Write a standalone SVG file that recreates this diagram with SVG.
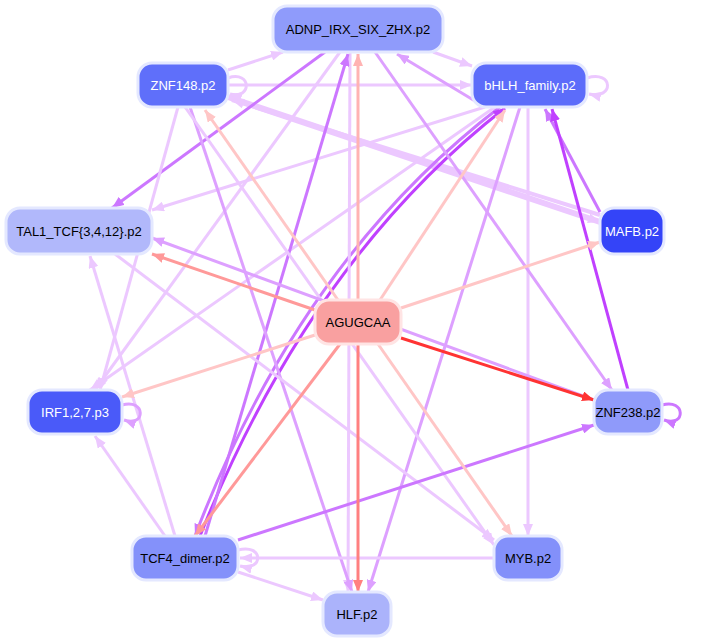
<svg xmlns="http://www.w3.org/2000/svg" width="708" height="644" viewBox="0 0 708 644">
<style>
.n rect{stroke:#e4e8ff;stroke-width:3}
.n text{font-family:"Liberation Sans",Arial,sans-serif;font-size:13px;text-anchor:middle;dominant-baseline:central}
.w text{fill:#fff}
#edges path,#edges line{fill:none;stroke-width:3}
.r1{stroke:#ff3333;marker-end:url(#mr1)}
.r2{stroke:#ff8080;marker-end:url(#mr2)}
.r3{stroke:#ff9999;marker-end:url(#mr3)}
.r4{stroke:#ffb3b3;marker-end:url(#mr4)}
.r5{stroke:#ffc6c6;marker-end:url(#mr5)}
.p1{stroke:#c040ff;marker-end:url(#mp1)}
.p2{stroke:#cc77ff;marker-end:url(#mp2)}
.p3{stroke:#dda0ff;marker-end:url(#mp3)}
.p4{stroke:#ecc8ff;marker-end:url(#mp4)}
</style>
<defs>
<marker id="mr1" markerUnits="userSpaceOnUse" markerWidth="12" markerHeight="10" refX="12" refY="5" orient="auto"><path d="M0,0L12,5L0,10z" fill="#ff3333"/></marker>
<marker id="mr2" markerUnits="userSpaceOnUse" markerWidth="12" markerHeight="10" refX="12" refY="5" orient="auto"><path d="M0,0L12,5L0,10z" fill="#ff8080"/></marker>
<marker id="mr3" markerUnits="userSpaceOnUse" markerWidth="12" markerHeight="10" refX="12" refY="5" orient="auto"><path d="M0,0L12,5L0,10z" fill="#ff9999"/></marker>
<marker id="mr4" markerUnits="userSpaceOnUse" markerWidth="12" markerHeight="10" refX="12" refY="5" orient="auto"><path d="M0,0L12,5L0,10z" fill="#ffb3b3"/></marker>
<marker id="mr5" markerUnits="userSpaceOnUse" markerWidth="12" markerHeight="10" refX="12" refY="5" orient="auto"><path d="M0,0L12,5L0,10z" fill="#ffc6c6"/></marker>
<marker id="mp1" markerUnits="userSpaceOnUse" markerWidth="12" markerHeight="10" refX="12" refY="5" orient="auto"><path d="M0,0L12,5L0,10z" fill="#c040ff"/></marker>
<marker id="mp2" markerUnits="userSpaceOnUse" markerWidth="12" markerHeight="10" refX="12" refY="5" orient="auto"><path d="M0,0L12,5L0,10z" fill="#cc77ff"/></marker>
<marker id="mp3" markerUnits="userSpaceOnUse" markerWidth="12" markerHeight="10" refX="12" refY="5" orient="auto"><path d="M0,0L12,5L0,10z" fill="#dda0ff"/></marker>
<marker id="mp4" markerUnits="userSpaceOnUse" markerWidth="12" markerHeight="10" refX="12" refY="5" orient="auto"><path d="M0,0L12,5L0,10z" fill="#ecc8ff"/></marker>
</defs>
<rect width="708" height="644" fill="#fff"/>
<g id="edges">
<path class="p4" d="M228,97L600,222" style="stroke-width:6"/>
<path class="p4" d="M600,215L232,100" style="stroke-width:4"/>
<path class="p4" d="M228,70L283,52"/>
<path class="p4" d="M228,85L472,85"/>
<path class="p4" d="M228,78C252,70 252,100 230,94"/>
<path class="p4" d="M433,52L472,66"/>
<path class="p3" d="M485,107L397,54"/>
<path class="p4" d="M587,78C614,70 614,100 589,94"/>
<path class="p2" d="M325,52L112,208"/>
<path class="p2" d="M600,212L545,109"/>
<path class="p1" d="M628,390L552,109"/>
<path class="p4" d="M485,107L152,210"/>
<path class="p4" d="M495,107L90,390"/>
<path class="p2" d="M500,107Q300,260 195,536"/>
<path class="p1" d="M200,536Q310,260 505,108"/>
<path class="p3" d="M520,107L368,592"/>
<path class="p4" d="M528,107L528,536"/>
<path class="p4" d="M340,52L95,390"/>
<path class="p4" d="M350,52L348,592"/>
<path class="p2" d="M205,536L348,54"/>
<path class="p3" d="M375,52L612,390"/>
<path class="p3" d="M190,107L352,592"/>
<path class="p4" d="M185,107L494,545"/>
<path class="p4" d="M178,107L100,390"/>
<path class="p3" d="M594,400L152,238"/>
<path class="p4" d="M115,254L494,540"/>
<path class="p4" d="M175,536L90,256"/>
<path class="p4" d="M165,536L95,436"/>
<path class="p2" d="M238,540L594,425"/>
<path class="p4" d="M238,550C264,543 264,572 240,566"/>
<path class="p4" d="M494,558L240,558"/>
<path class="p4" d="M238,572L323,600"/>
<path class="p3" d="M122,405C146,398 146,428 124,420"/>
<path class="p2" d="M662,405C686,398 686,428 664,420"/>
<path class="r4" d="M358,300L358,54"/>
<path class="r5" d="M338,300L205,110"/>
<path class="r5" d="M380,300L505,110"/>
<path class="r3" d="M315,310L152,254"/>
<path class="r5" d="M401,308L600,242"/>
<path class="r1" d="M401,338L594,400"/>
<path class="r5" d="M315,335L122,397"/>
<path class="r3" d="M340,344L195,536"/>
<path class="r2" d="M358,344L358,592"/>
<path class="r5" d="M378,344L512,536"/>
</g>
<g id="ADNP" class="n"><rect x="273" y="6" width="170" height="46" rx="14" fill="#8f9bfb"/><text x="358" y="29">ADNP_IRX_SIX_ZHX.p2</text></g>
<g id="ZNF148" class="n w"><rect x="138" y="63" width="90" height="44" rx="14" fill="#5f6ffa"/><text x="183" y="85">ZNF148.p2</text></g>
<g id="bHLH" class="n w"><rect x="472" y="63" width="115" height="44" rx="14" fill="#5c6cfa"/><text x="530" y="85">bHLH_family.p2</text></g>
<g id="TAL1" class="n"><rect x="6" y="208" width="146" height="46" rx="14" fill="#b1b8fb"/><text x="79" y="231">TAL1_TCF{3,4,12}.p2</text></g>
<g id="MAFB" class="n w"><rect x="600" y="208" width="64" height="46" rx="14" fill="#3444f8"/><text x="632" y="231">MAFB.p2</text></g>
<g id="AGUGCAA" class="n"><rect x="315" y="300" width="86" height="44" rx="14" fill="#f9a0a0" style="stroke:#ffe4e4"/><text x="358" y="322">AGUGCAA</text></g>
<g id="IRF" class="n w"><rect x="28" y="390" width="94" height="44" rx="14" fill="#4a5af9"/><text x="75" y="412">IRF1,2,7.p3</text></g>
<g id="ZNF238" class="n"><rect x="594" y="390" width="68" height="44" rx="14" fill="#8f9afa"/><text x="628" y="412">ZNF238.p2</text></g>
<g id="TCF4" class="n"><rect x="132" y="536" width="106" height="44" rx="14" fill="#8491fa"/><text x="185" y="558">TCF4_dimer.p2</text></g>
<g id="MYB" class="n"><rect x="494" y="536" width="68" height="44" rx="14" fill="#8390fa"/><text x="528" y="558">MYB.p2</text></g>
<g id="HLF" class="n"><rect x="323" y="592" width="68" height="44" rx="14" fill="#abb3fb"/><text x="357" y="614">HLF.p2</text></g>
</svg>
